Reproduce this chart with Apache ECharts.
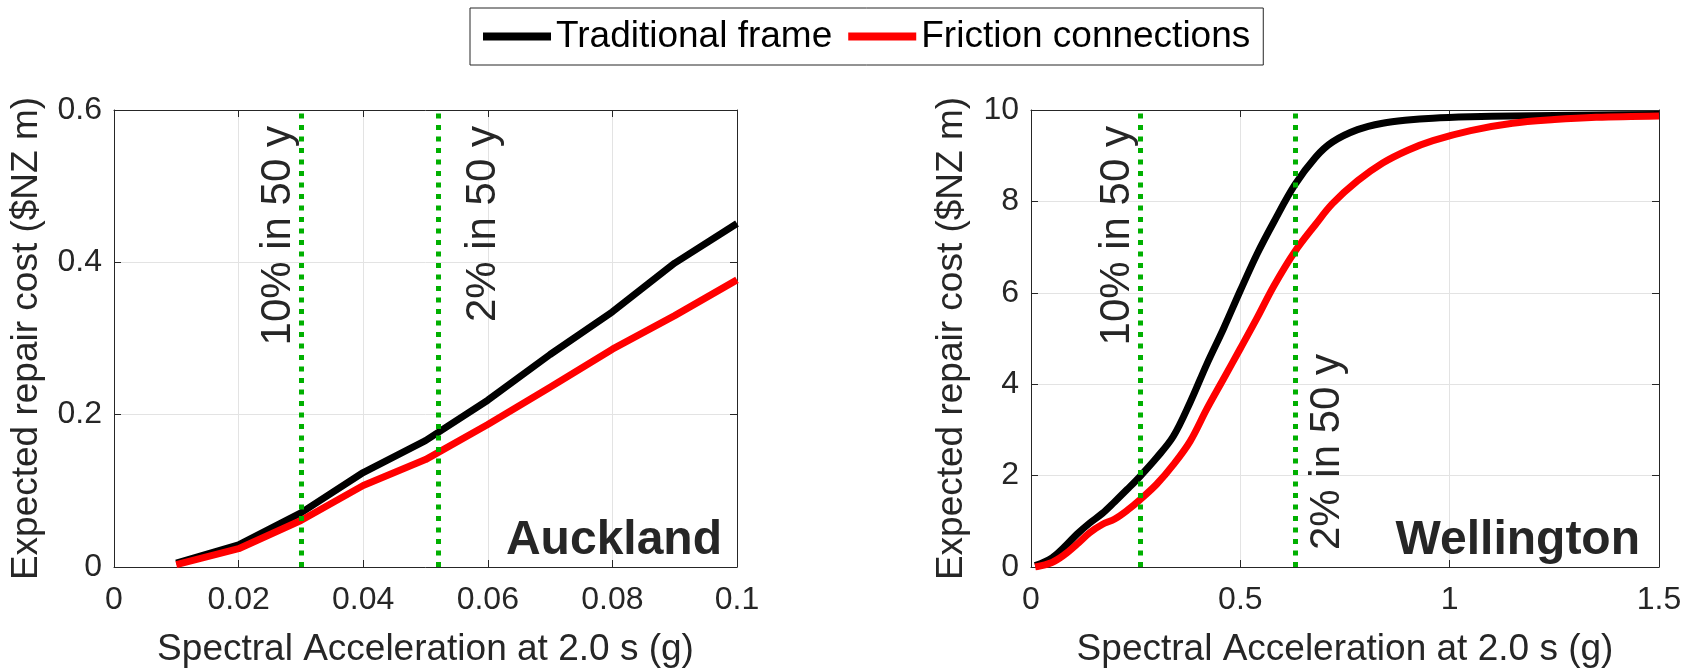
<!DOCTYPE html>
<html><head><meta charset="utf-8">
<script src="https://cdn.jsdelivr.net/npm/echarts@6/dist/echarts.min.js"></script>
<style>html,body{margin:0;padding:0;background:#fff}#c{width:1694px;height:671px}</style>
</head><body><div id="c"></div>
<script>
// ---------- data ----------
const seriesNames = ['Traditional frame', 'Friction connections'];
const xAxisTitle = 'Spectral Acceleration at 2.0 s (g)';
const yAxisTitle = 'Expected repair cost ($NZ m)';
const panelTitles = ['Auckland', 'Wellington'];
const hazardLabels = ['10% in 50 y', '2% in 50 y'];

const aucklandX = [0.01, 0.02, 0.03, 0.04, 0.05, 0.06, 0.07, 0.08, 0.09, 0.1];
const aucklandTraditional = [0.005, 0.029, 0.071, 0.124, 0.166, 0.219, 0.279, 0.335, 0.399, 0.451];
const aucklandFriction = [0.003, 0.024, 0.061, 0.107, 0.141, 0.187, 0.236, 0.286, 0.330, 0.377];
const aucklandHazardX = [0.03, 0.052];

const wellingtonX = [0.01, 0.05, 0.08, 0.11, 0.14, 0.17, 0.2, 0.23, 0.26, 0.3, 0.34, 0.38, 0.42, 0.46, 0.5,
  0.54, 0.58, 0.63, 0.68, 0.72, 0.78, 0.84, 0.9, 0.96, 1.05, 1.15, 1.25, 1.35, 1.5];
const wellingtonTraditional = [0.03, 0.2, 0.44, 0.72, 0.96, 1.17, 1.43, 1.7, 1.98, 2.39, 2.86, 3.6, 4.44, 5.22, 6.05,
  6.85, 7.55, 8.36, 8.97, 9.3, 9.57, 9.71, 9.78, 9.82, 9.85, 9.87, 9.88, 9.89, 9.9];
const wellingtonFriction = [0.0, 0.1, 0.27, 0.5, 0.75, 0.93, 1.05, 1.24, 1.47, 1.81, 2.24, 2.75, 3.46, 4.12, 4.78,
  5.45, 6.15, 6.9, 7.5, 7.95, 8.45, 8.84, 9.12, 9.33, 9.55, 9.71, 9.79, 9.84, 9.87];
const wellingtonHazardX = [0.26, 0.63];

// ---------- chart ----------
const FONT = '"Liberation Sans", Arial, Helvetica, sans-serif';
const AX = '#262626';
const pairs = (xs, ys) => xs.map((x, i) => [x, ys[i]]);

function xAxes(gridIndex, min, max, interval) {
  return [{
    type: 'value', gridIndex, position: 'bottom', min, max, interval,
    name: xAxisTitle, nameLocation: 'middle', nameGap: 64, nameMoveOverlap: false,
    nameTextStyle: { fontSize: 37, color: AX, fontFamily: FONT },
    axisLine: { show: true, onZero: false, lineStyle: { color: AX, width: 1 } },
    axisTick: { show: true, inside: true, length: 7, lineStyle: { color: AX } },
    axisLabel: { fontSize: 32, margin: 17, color: AX, fontFamily: FONT },
    splitLine: { show: true, lineStyle: { color: '#e3e3e3', width: 1 } }
  }, {
    type: 'value', gridIndex, position: 'top', min, max, interval,
    axisLine: { show: true, onZero: false, lineStyle: { color: AX, width: 1 } },
    axisTick: { show: true, inside: true, length: 7, lineStyle: { color: AX } },
    axisLabel: { show: false }, splitLine: { show: false }
  }];
}
function yAxes(gridIndex, min, max, interval, nameGap) {
  return [{
    type: 'value', gridIndex, position: 'left', min, max, interval,
    name: yAxisTitle, nameLocation: 'middle', nameGap, nameMoveOverlap: false,
    nameTextStyle: { fontSize: 37, color: AX, fontFamily: FONT },
    axisLine: { show: true, onZero: false, lineStyle: { color: AX, width: 1 } },
    axisTick: { show: true, inside: true, length: 7, lineStyle: { color: AX } },
    axisLabel: { fontSize: 32, margin: 12, color: AX, fontFamily: FONT },
    splitLine: { show: true, lineStyle: { color: '#e3e3e3', width: 1 } }
  }, {
    type: 'value', gridIndex, position: 'right', min, max, interval,
    axisLine: { show: true, onZero: false, lineStyle: { color: AX, width: 1 } },
    axisTick: { show: true, inside: true, length: 7, lineStyle: { color: AX } },
    axisLabel: { show: false }, splitLine: { show: false }
  }];
}

function hazardMarkLine(xs, positions) {
  return {
    silent: true, symbol: 'none', animation: false, precision: 4,
    emphasis: { disabled: true },
    lineStyle: { color: '#00b000', width: 5, type: [5, 6.5], cap: 'butt' },
    data: xs.map((x, i) => ({
      xAxis: x,
      label: Object.assign({
        show: true, formatter: hazardLabels[i], fontSize: 42, color: AX, fontFamily: FONT
      }, positions[i])
    }))
  };
}

function curve(name, data, gi, color, smooth, markLine) {
  const s = {
    name, type: 'line', xAxisIndex: gi * 2, yAxisIndex: gi * 2, data,
    symbol: 'none', smooth: smooth ? 0.35 : false,
    lineStyle: { color, width: 7, cap: 'butt', join: 'round' },
    itemStyle: { color }, emphasis: { disabled: true }, animation: false
  };
  if (markLine) s.markLine = markLine;
  return s;
}

const option = {
  animation: false,
  backgroundColor: '#fff',
  textStyle: { fontFamily: FONT },
  legend: {
    left: 470, top: 8, orient: 'horizontal', data: seriesNames, icon: 'rect',
    itemWidth: 68, itemHeight: 8, itemGap: 16, padding: [10, 13],
    borderColor: AX, borderWidth: 1, backgroundColor: '#fff',
    textStyle: { fontSize: 37, color: '#000', fontFamily: FONT },
    selectedMode: false
  },
  grid: [
    { left: 114, top: 110, width: 623, height: 457, outerBoundsMode: 'none', containLabel: false },
    { left: 1031, top: 110, width: 628, height: 457, outerBoundsMode: 'none', containLabel: false }
  ],
  xAxis: [...xAxes(0, 0, 0.1, 0.02), ...xAxes(1, 0, 1.5, 0.5)],
  yAxis: [...yAxes(0, 0, 0.6, 0.2, 69), ...yAxes(1, 0, 10, 2, 61)],
  series: [
    curve(seriesNames[0], pairs(aucklandX, aucklandTraditional), 0, '#000000', false),
    curve(seriesNames[1], pairs(aucklandX, aucklandFriction), 0, '#ff0000', false,
      hazardMarkLine(aucklandHazardX, [
        { position: 'insideEndTop', distance: [16, 1] },
        { position: 'insideEndBottom', distance: [16, 24] }
      ])),
    curve(seriesNames[0], pairs(wellingtonX, wellingtonTraditional), 1, '#000000', true),
    curve(seriesNames[1], pairs(wellingtonX, wellingtonFriction), 1, '#ff0000', true,
      hazardMarkLine(wellingtonHazardX, [
        { position: 'insideEndTop', distance: [16, 1] },
        { position: 'insideStartBottom', distance: [17, 12] }
      ]))
  ],
  graphic: [
    { type: 'text', right: 972, bottom: 106, z: 100,
      style: { text: panelTitles[0], font: 'bold 48px ' + FONT, fill: AX } },
    { type: 'text', right: 54, bottom: 106, z: 100,
      style: { text: panelTitles[1], font: 'bold 48px ' + FONT, fill: AX } }
  ]
};

const chart = echarts.init(document.getElementById('c'), null, { renderer: 'canvas' });
chart.setOption(option);
</script>
</body></html>
